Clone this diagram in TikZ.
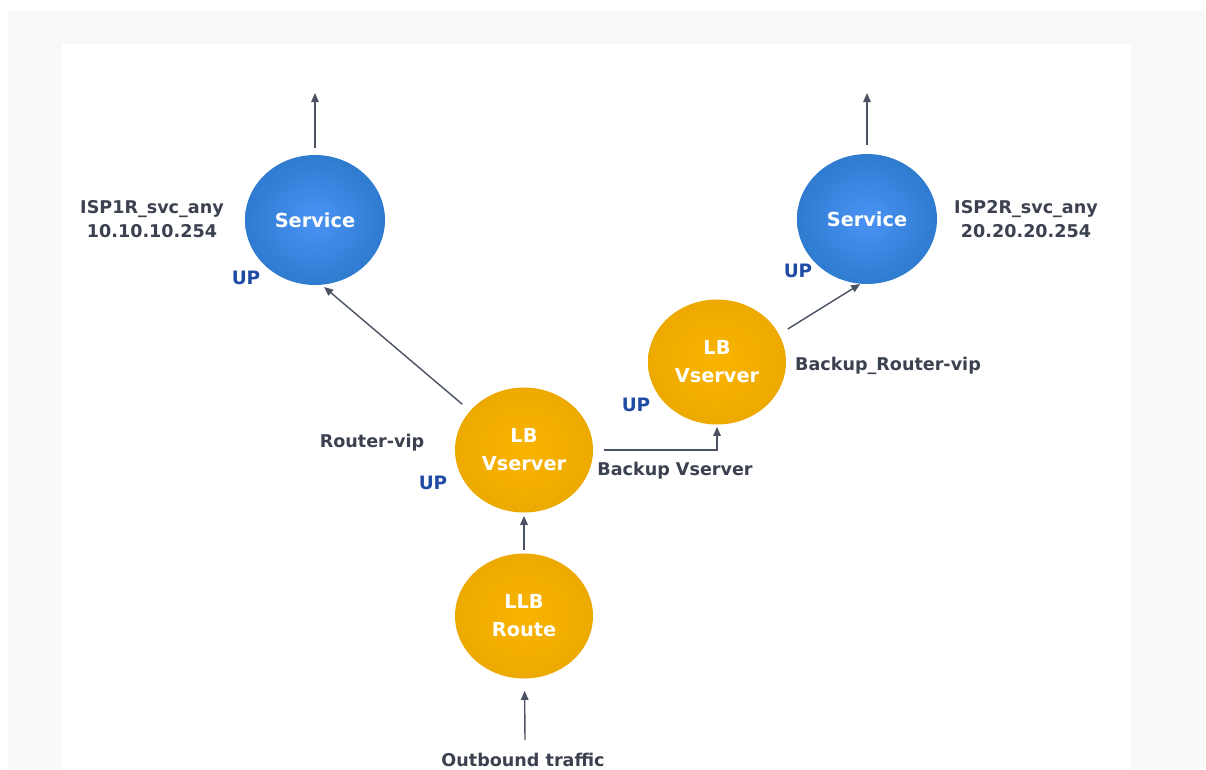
\documentclass[tikz,border=0pt]{standalone}
\usepackage{fontspec}
\setmainfont{DejaVu Sans}
\usepackage{xcolor}
\usetikzlibrary{shapes.geometric,arrows.meta,positioning}
\definecolor{pagegray}{HTML}{F9F9F9}
\definecolor{linegray}{HTML}{4B5263}
\definecolor{textgray}{HTML}{3C4150}
\definecolor{upblue}{HTML}{1F4BA5}
\definecolor{svcin}{HTML}{4A93F5}
\definecolor{svcout}{HTML}{1767B0}
\definecolor{lbvin}{HTML}{FAB400}
\definecolor{lbvout}{HTML}{E1A000}
\pgfdeclareradialshading{svcshade}{\pgfpoint{0bp}{0bp}}{color(0bp)=(svcin); color(46bp)=(svcout); color(50bp)=(svcout)}
\pgfdeclareradialshading{lbvshade}{\pgfpoint{0bp}{0bp}}{color(0bp)=(lbvin); color(46bp)=(lbvout); color(50bp)=(lbvout)}

\begin{document}
\begin{tikzpicture}[
    x=0.02cm,y=-0.02cm,
    svc/.style  = {ellipse,shading=svcshade,inner sep=0pt,minimum width=2.8cm,
                   minimum height=2.6cm,align=center,text=white,
                   font=\bfseries\fontsize{11}{16}\selectfont},
    lbv/.style  = {ellipse,shading=lbvshade,inner sep=0pt,minimum width=2.76cm,
                   minimum height=2.5cm,align=center,text=white,
                   font=\bfseries\fontsize{11}{16}\selectfont},
    fl/.style   = {-{Triangle[length=0.18cm,width=0.15cm]},linegray,line width=0.8pt},
    tag/.style  = {align=center,text=textgray,inner sep=0pt,
                   font=\bfseries\fontsize{10}{13.6}\selectfont},
    up/.style   = {text=upblue,inner sep=0pt,font=\bfseries\fontsize{10.5}{12}\selectfont},
  ]
  \useasboundingbox (0,0) rectangle (1206,769);
  \fill[pagegray] (8,11) rectangle (1206,769);
  \fill[white] (62,44) rectangle (1131,769);

  \node[svc] (svc1) at (315,220) {Service};
  \node[svc] (svc2) at (867,219) {Service};
  \node[lbv] (lbv1) at (524,450) {LB\\Vserver};
  \node[lbv] (lbv2) at (717,362) {LB\\Vserver};
  \node[lbv] (llb)  at (524,616) {LLB\\Route};

  \coordinate (out1) at (315,93);
  \coordinate (out2) at (867,93);
  \coordinate (src)  at (525,740);

  \draw[fl,shorten <=0.14cm] (svc1) -- (out1);
  \draw[fl,shorten <=0.18cm] (svc2) -- (out2);
  \draw[fl,shorten <=0.2cm,shorten >=0.06cm] (lbv1.144) -- (svc1.-84);
  \draw[fl,shorten <=0.2cm] (lbv2.24) -- (svc2.-96);
  \draw[fl,shorten <=0.22cm,shorten >=0.04cm] (lbv1.east) -| (lbv2.south);
  \draw[fl,shorten <=0.06cm,shorten >=0.06cm] (llb) -- (lbv1);
  \draw[fl,shorten >=0.24cm] (src) -- (llb);

  \node[tag] (isp1) at (152,219) {ISP1R\_svc\_any\\10.10.10.254};
  \node[tag] (isp2) at (1026,219) {ISP2R\_svc\_any\\20.20.20.254};
  \node[tag] (rvip) at (372,443) {Router-vip};
  \node[tag] (bvip) at (888,366) {Backup\_Router-vip};
  \node[tag] (bvs)  at (675,471) {Backup Vserver};
  \node[tag,anchor=base] (traffic) at (523,766) {Outbound traffic};

  \node[up] (up1) at (246,278) {UP};
  \node[up] (up2) at (798,271) {UP};
  \node[up] (up3) at (636,405) {UP};
  \node[up] (up4) at (433,483) {UP};
\end{tikzpicture}
\end{document}
